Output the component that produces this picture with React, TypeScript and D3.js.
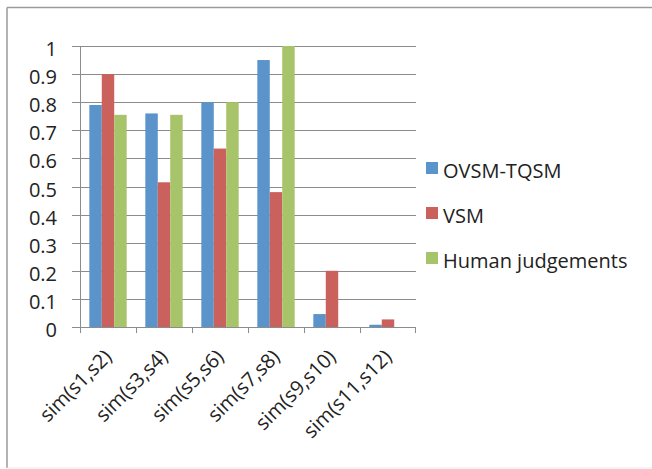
import React from "react";
import * as d3 from "d3";

const categories = ["sim(s1,s2)", "sim(s3,s4)", "sim(s5,s6)", "sim(s7,s8)", "sim(s9,s10)", "sim(s11,s12)"];
const seriesNames = ["OVSM-TQSM", "VSM", "Human judgements"];
const ovsm = [0.79, 0.76, 0.8, 0.95, 0.046, 0.008];
const vsm = [0.9, 0.515, 0.635, 0.48, 0.2, 0.027];
const human = [0.755, 0.755, 0.8, 1.0, 0, 0];
const yTicks = [0, 0.1, 0.2, 0.3, 0.4, 0.5, 0.6, 0.7, 0.8, 0.9, 1];
const colors = ["#5B93CB", "#CB615C", "#A8C46A"];

export default function App() {
  const W = 652, H = 469;
  const x0 = 80, x1 = 416, yTop = 46, yBot = 327;
  const series = [ovsm, vsm, human];
  const x = d3.scaleBand<string>().domain(categories).range([x0, x1]).paddingInner(0).paddingOuter(0);
  const inner = d3.scaleBand<number>().domain([0, 1, 2]).range([0, x.bandwidth() * 3 / 4.5]);
  const y = d3.scaleLinear().domain([0, 1]).range([yBot, yTop]);
  const gap = (x.bandwidth() - inner.range()[1]) / 2;
  const font = "'Open Sans', sans-serif";
  const fs = 20;
  return (
    <div style={{ position: "absolute", left: 0, top: 0 }}>
      <svg width={W} height={H} style={{ display: "block" }}>
        <rect x={0} y={0} width={W} height={H} fill="#fff" />
        <line x1={7} y1={7.5} x2={W} y2={7.5} stroke="#9a9a9a" strokeWidth={1.5} />
        <line x1={7} y1={7.5} x2={7} y2={468} stroke="#9a9a9a" strokeWidth={1.5} />
        <line x1={7} y1={468} x2={W} y2={468} stroke="#e8e8e8" strokeWidth={1} />
        {yTicks.map((t) => (
          <g key={t}>
            <line x1={72} x2={x1} y1={Math.round(y(t)) + 0.5} y2={Math.round(y(t)) + 0.5} stroke="#8c8c8c" strokeWidth={1} />
            <text x={57} y={y(t) + 3} dy="0.35em" textAnchor="end" fontFamily={font} fontSize={fs} fill="#222">{t}</text>
          </g>
        ))}
        {series.map((vals, si) =>
          categories.map((c, ci) => {
            const bx = (x(c) as number) + gap + (inner(si) as number);
            const v = vals[ci];
            if (v <= 0) return null;
            return <rect key={si + "-" + ci} x={bx} y={y(v)} width={inner.bandwidth()} height={yBot - y(v)} fill={colors[si]} />;
          })
        )}
        <line x1={x0 + 0.5} x2={x0 + 0.5} y1={yTop} y2={yBot} stroke="#8c8c8c" strokeWidth={1} />
        <line x1={72} x2={x1} y1={yBot + 0.5} y2={yBot + 0.5} stroke="#8c8c8c" strokeWidth={1} />
        {categories.map((c, i) => (
          <line key={"t" + i} x1={(x(c) as number) + 0.5} x2={(x(c) as number) + 0.5} y1={yBot} y2={yBot + 6} stroke="#8c8c8c" />
        ))}
        <line x1={x1 - 0.5} x2={x1 - 0.5} y1={yBot} y2={yBot + 6} stroke="#8c8c8c" />
        {categories.map((c) => {
          const cx = (x(c) as number) + x.bandwidth() / 2 + 5;
          const cy = yBot + 31;
          return (
            <text key={c} x={cx} y={cy} transform={`rotate(-45 ${cx} ${cy})`} textAnchor="end" fontFamily={font} fontSize={fs} fill="#222">{c}</text>
          );
        })}
        {seriesNames.map((n, i) => (
          <g key={n}>
            <rect x={426} y={162 + i * 45} width={12} height={12} fill={colors[i]} />
            <text x={443} y={170.5 + i * 45} dy="0.35em" fontFamily={font} fontSize={fs} fill="#222">{n}</text>
          </g>
        ))}
      </svg>
    </div>
  );
}
